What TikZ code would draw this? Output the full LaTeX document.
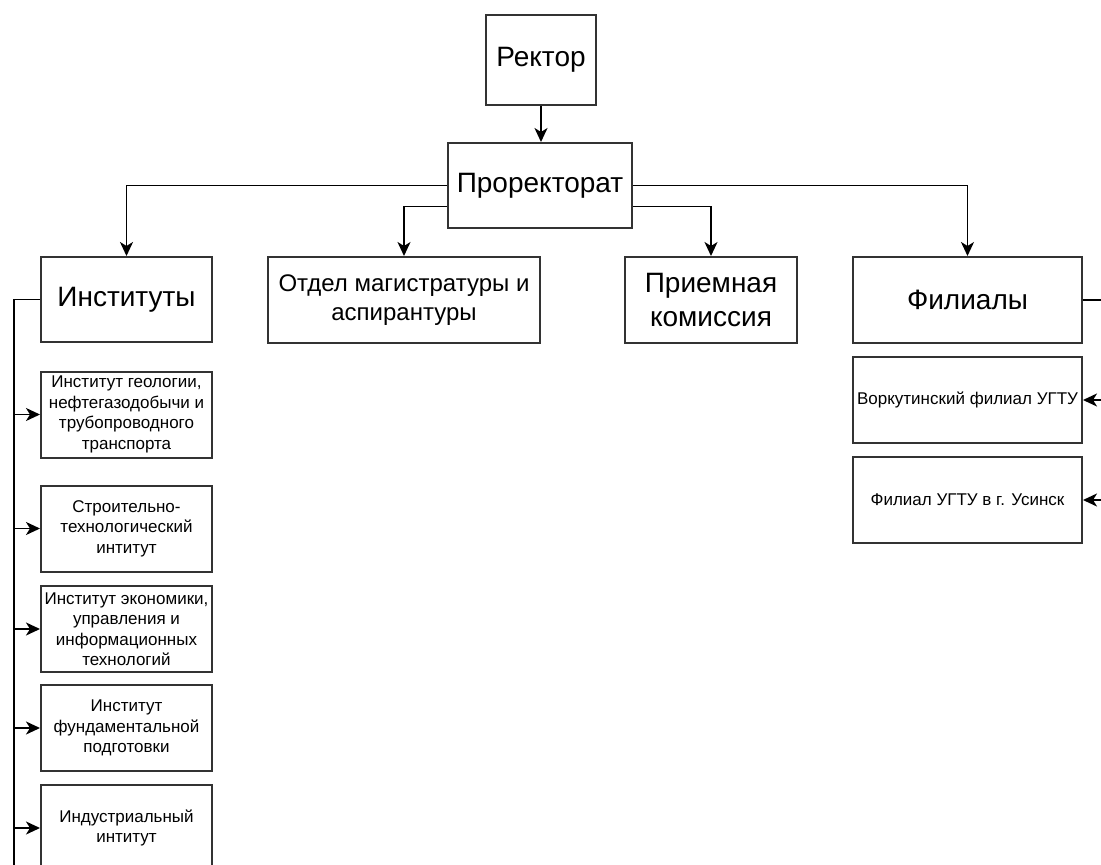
\documentclass[tikz,border=0pt]{standalone}
\usepackage{fontspec}
\setmainfont{Liberation Sans}
\usetikzlibrary{arrows.meta}
\begin{document}
\begin{tikzpicture}[x=1pt,y=-1pt,
  box/.style={draw=black!80, line width=2pt, fill=white, align=center, inner sep=2pt, anchor=center, text=black},
  big/.style={font=\fontsize{28}{34}\selectfont},
  mid/.style={font=\fontsize{24}{29}\selectfont},
  small/.style={font=\fontsize{17}{20.5}\selectfont},
  subbox/.style={box, small, minimum width=171pt, minimum height=86pt},
  brbox/.style={box, small, minimum width=229pt, minimum height=86pt},
  link/.style={draw=black, line width=1.8pt},
  arr/.style={link, -{Stealth[length=14pt,width=13pt,inset=4pt]}}]

\useasboundingbox (0,0) rectangle (1101,865);
\fill[white] (0,0) rectangle (1101,865);
\clip (0,0) rectangle (1101,865);

% top levels
\node[box,big,minimum width=110pt,minimum height=90pt] (rektor) at (541,60) {Ректор};
\node[box,big,minimum width=184pt,minimum height=85pt] (prorek) at (540,185.5) {Проректорат};

% departments
\node[box,big,minimum width=171pt,minimum height=85pt] (inst) at (126.5,299.5) {Институты};
\node[box,mid,minimum width=272pt,minimum height=86pt] (otdel) at (404,300) {Отдел магистратуры и\\аспирантуры};
\node[box,big,minimum width=172pt,minimum height=86pt] (priem) at (711,300) {Приемная\\комиссия};
\node[box,big,minimum width=229pt,minimum height=86pt] (fil) at (967.5,300) {Филиалы};

% institutes
\node[subbox] (sub1) at (126.5,414.5) {Институт геологии,\\нефтегазодобычи и\\трубопроводного\\транспорта};
\node[subbox] (sub2) at (126.5,528.5) {Строительно-\\технологический\\интитут};
\node[subbox] (sub3) at (126.5,629) {Институт экономики,\\управления и\\информационных\\технологий};
\node[subbox] (sub4) at (126.5,728) {Институт\\фундаментальной\\подготовки};
\node[subbox] (sub5) at (126.5,828) {Индустриальный\\интитут};

% branches
\node[brbox] (vork) at (967.5,400) {Воркутинский филиал УГТУ};
\node[brbox] (usinsk) at (967.5,500) {Филиал УГТУ в г. Усинск};

% connectors
\draw[arr] (rektor.south) -- (rektor.south |- prorek.north);
\draw[arr] (prorek.west) -| (inst.north);
\draw[arr] (prorek.east) -| (fil.north);
\draw[arr] ([yshift=-21pt]prorek.west) -| (otdel.north);
\draw[arr] ([yshift=-21pt]prorek.east) -| (priem.north);

\coordinate (itrunk) at (14,299.5);
\coordinate (iend) at (14,880);
\draw[link] (inst.west) -- (itrunk) -- (iend);
\foreach \n in {sub1,sub2,sub3,sub4,sub5}
  \draw[arr] (itrunk |- \n.west) -- (\n.west);

\coordinate (ftrunk) at (1115,300);
\coordinate (fend) at (1115,500);
\draw[link] (fil.east) -- (ftrunk) -- (fend);
\foreach \n in {vork,usinsk}
  \draw[arr] (ftrunk |- \n.east) -- (\n.east);
\end{tikzpicture}
\end{document}
